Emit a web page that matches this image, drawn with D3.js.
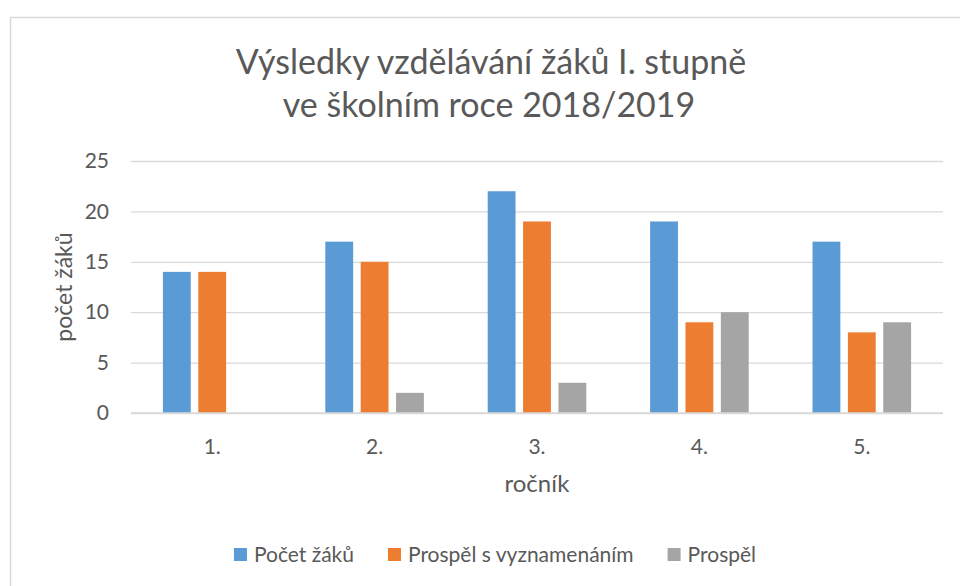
<!DOCTYPE html>
<html>
<head>
<meta charset="utf-8">
<script src="https://cdn.jsdelivr.net/npm/d3@7"></script>
<style>
  body { margin: 0; background: #fff; }
  svg text { font-family: Lato, "Open Sans", sans-serif; fill: #595959; }
</style>
</head>
<body>
<div id="chart"></div>
<script>
// chart data
const categories = ["1.", "2.", "3.", "4.", "5."];
const seriesNames = ["Počet žáků", "Prospěl s vyznamenáním", "Prospěl"];
const pocetZaku = [14, 17, 22, 19, 17];
const vyznamenani = [14, 15, 19, 9, 8];
const prospel = [0, 2, 3, 10, 9];
const yTicks = [0, 5, 10, 15, 20, 25];
const colors = ["#5B9BD5", "#ED7D31", "#A5A5A5"];

const width = 960, height = 586;
const margin = {top: 161, bottom: 173, left: 131, right: 17};
const plotW = width - margin.left - margin.right;
const plotH = height - margin.top - margin.bottom;

const svg = d3.select("#chart").append("svg")
    .attr("width", width)
    .attr("height", height);

// outer chart border (runs off the right and bottom edges)
svg.append("rect")
    .attr("x", 10.5).attr("y", 17.5)
    .attr("width", 980).attr("height", 600)
    .attr("fill", "none")
    .attr("stroke", "#D9D9D9")
    .attr("stroke-width", 1.5);

const g = svg.append("g")
    .attr("transform", "translate(" + margin.left + "," + margin.top + ")");

const rows = categories.map(function(c, i) {
    return {cat: c, values: [pocetZaku[i], vyznamenani[i], prospel[i]]};
});

// scales
const x0 = d3.scaleBand()
    .domain(categories)
    .range([0, plotW])
    .paddingInner(0.393)
    .paddingOuter(0.1965);

const x1 = d3.scaleBand()
    .domain([0, 1, 2])
    .range([0, x0.bandwidth()])
    .paddingInner(0.213)
    .paddingOuter(0);

const y = d3.scaleLinear()
    .domain([0, 25])
    .range([plotH, 0]);

// gridlines + y labels
const yAxis = d3.axisLeft(y)
    .tickValues(yTicks)
    .tickSize(-plotW)
    .tickPadding(22);

g.append("g")
    .attr("class", "y-axis")
    .call(yAxis)
    .call(function(sel) {
        sel.select(".domain").remove();
        sel.selectAll("line").attr("stroke", "#D9D9D9").attr("stroke-width", 1.3);
        sel.selectAll("text")
            .attr("font-size", "21px")
            .attr("fill", "#595959")
            .style("font-family", "Lato, 'Open Sans', sans-serif");
    });

// bars
const groups = g.selectAll(".grp")
    .data(rows)
    .enter().append("g")
        .attr("class", "grp")
        .attr("transform", function(d) { return "translate(" + x0(d.cat) + ",0)"; });

groups.selectAll("rect")
    .data(function(d) { return d.values.map(function(v, k) { return {k: k, v: v}; }); })
    .enter().append("rect")
        .attr("x", function(d) { return x1(d.k); })
        .attr("y", function(d) { return y(d.v); })
        .attr("width", x1.bandwidth())
        .attr("height", function(d) { return plotH - y(d.v); })
        .attr("fill", function(d) { return colors[d.k]; });

// x axis labels
const xAxis = d3.axisBottom(x0)
    .tickSize(0)
    .tickPadding(26);

g.append("g")
    .attr("class", "x-axis")
    .attr("transform", "translate(0," + plotH + ")")
    .call(xAxis)
    .call(function(sel) {
        sel.select(".domain").remove();
        sel.selectAll("text")
            .attr("font-size", "21px")
            .attr("fill", "#595959")
            .style("font-family", "Lato, 'Open Sans', sans-serif");
    });

// redraw baseline gridline on top of bars
g.append("line")
    .attr("x1", 0).attr("x2", plotW)
    .attr("y1", plotH).attr("y2", plotH)
    .attr("stroke", "#D9D9D9")
    .attr("stroke-width", 1.3);

// axis titles
svg.append("text")
    .attr("x", margin.left + plotW / 2)
    .attr("y", 492)
    .attr("text-anchor", "middle")
    .attr("font-size", "24px")
    .text("ročník");

svg.append("text")
    .attr("transform", "translate(72," + (margin.top + plotH / 2) + ") rotate(-90)")
    .attr("text-anchor", "middle")
    .attr("font-size", "23px")
    .text("počet žáků");

// title
const title = svg.append("text")
    .attr("text-anchor", "middle")
    .attr("font-size", "34px");
title.append("tspan").attr("x", 491).attr("y", 74).text("Výsledky vzdělávání žáků I. stupně");
title.append("tspan").attr("x", 489).attr("y", 117).text("ve školním roce 2018/2019");

// legend
const legend = svg.append("g").attr("class", "legend");
const items = legend.selectAll("g")
    .data(seriesNames)
    .enter().append("g");

items.append("rect")
    .attr("width", 13).attr("height", 13)
    .attr("y", -7)
    .attr("fill", function(d, i) { return colors[i]; });

items.append("text")
    .attr("x", 20)
    .attr("y", 7)
    .attr("font-size", "21px")
    .text(function(d) { return d; });

let offset = 0;
const gap = 34;
items.each(function() {
    const node = d3.select(this);
    node.attr("transform", "translate(" + offset + ",0)");
    offset += 20 + node.select("text").node().getComputedTextLength() + gap;
});
const legendW = offset - gap;
legend.attr("transform", "translate(" + (495 - legendW / 2) + ",555)");
</script>
</body>
</html>
